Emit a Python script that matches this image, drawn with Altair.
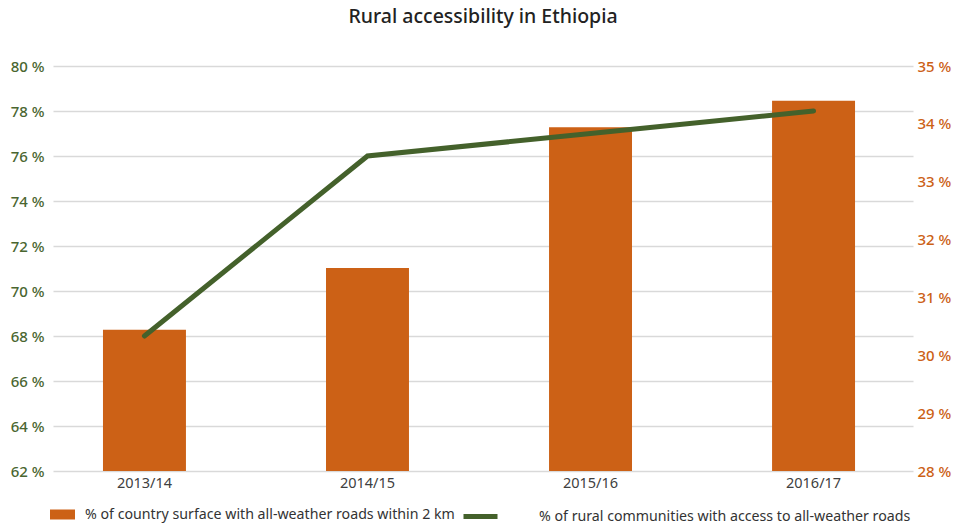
import altair as alt
import pandas as pd

years = ["2013/14", "2014/15", "2015/16", "2016/17"]
surface_pct = [30.44, 31.51, 33.94, 34.40]
community_pct = [68.0, 76.0, 77.0, 78.0]
bar_label = "% of country surface with all-weather roads within 2 km"
line_label = "% of rural communities with access to all-weather roads"
left_ticks = [62, 64, 66, 68, 70, 72, 74, 76, 78, 80]
right_ticks = [28, 29, 30, 31, 32, 33, 34, 35]

df = pd.DataFrame({
    "year": years,
    "surface": surface_pct,
    "community": community_pct,
    "bar_series": [bar_label] * len(years),
    "line_series": [line_label] * len(years),
})

FONT = "Noto Sans"
ORANGE = "#CC6116"
GREEN = "#44612B"
GREEN_TXT = "#4A6630"

x_enc = alt.X(
    "year:N", sort=years, title=None,
    scale=alt.Scale(paddingInner=0.628, paddingOuter=0.242, align=0.463),
    axis=alt.Axis(labelAngle=0, ticks=False, domain=False, grid=False,
                  labelPadding=5, labelFontSize=14.5, labelColor="#404040",
                  labelFont=FONT),
)

bars = alt.Chart(df).mark_bar().encode(
    x=x_enc,
    y=alt.Y("surface:Q", title=None,
            scale=alt.Scale(domain=[28, 35], nice=False, zero=False),
            axis=alt.Axis(orient="right", values=right_ticks, grid=False,
                          ticks=False, domain=False,
                          labelExpr="datum.value + ' %'",
                          labelColor=ORANGE, labelFontSize=15,
                          labelFontWeight=500,
                          labelPadding=4, labelFont=FONT)),
    y2=alt.datum(28),
    fill=alt.Fill("bar_series:N", scale=alt.Scale(range=[ORANGE]),
                  legend=alt.Legend(title=None, orient="none",
                                    legendX=-3, legendY=436, padding=0,
                                    symbolType="M-1,-0.4H1V0.4H-1Z",
                                    symbolSize=625, symbolOpacity=1,
                                    symbolStrokeWidth=0,
                                    labelFont=FONT, labelFontSize=14.2,
                                    labelColor="#333333", labelOffset=10,
                                    labelLimit=500)),
)

line = alt.Chart(df).mark_line(strokeWidth=5, strokeCap="round").encode(
    x=x_enc,
    y=alt.Y("community:Q", title=None,
            scale=alt.Scale(domain=[62, 80], nice=False, zero=False),
            axis=alt.Axis(orient="left", values=left_ticks, grid=True,
                          gridColor="#d9d9d9", gridWidth=1.3,
                          ticks=False, domain=False,
                          labelExpr="datum.value + ' %'",
                          labelColor=GREEN_TXT, labelFontSize=15,
                          labelFontWeight=500,
                          labelPadding=9, labelFont=FONT)),
    stroke=alt.Stroke("line_series:N", scale=alt.Scale(range=[GREEN]),
                      legend=alt.Legend(title=None, orient="none",
                                        legendX=408, legendY=431, padding=0,
                                        symbolType="stroke",
                                        symbolSize=1156,
                                        symbolStrokeWidth=5,
                                        labelFont=FONT, labelFontSize=14.2,
                                        labelColor="#333333", labelOffset=39,
                                        labelLimit=500)),
)

chart = alt.layer(bars, line).resolve_scale(
    y="independent", fill="independent", stroke="independent"
).properties(
    width=860, height=405,
    padding={"left": 53, "top": 66, "right": 43, "bottom": 53},
    autosize=alt.AutoSizeParams(type="none"),
    title=alt.TitleParams("Rural accessibility in Ethiopia", font=FONT,
                          fontSize=19.5, fontWeight=500, color="#222222",
                          anchor="middle", offset=32),
).configure_view(stroke=None)

chart.save("out.html", embed_options={"renderer": "svg", "actions": False})
